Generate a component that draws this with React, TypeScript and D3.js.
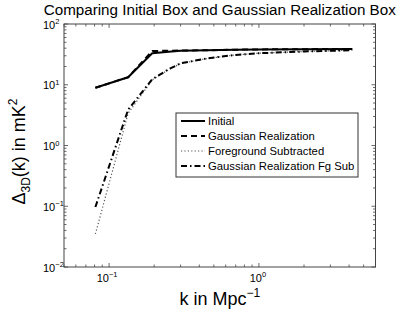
import React from "react";
import * as d3 from "d3";

const kValues = [0.081, 0.134, 0.194, 0.25, 0.3, 0.45, 0.7, 1.0, 2.0, 4.2];
const initialValues = [8.9, 13.3, 33, 35, 36.3, 37, 37.8, 38.2, 38.5, 38.8];
const gaussianValues = [8.9, 13.3, 36, 36.3, 36.5, 37, 37.8, 38.2, 38.5, 38.8];
const fgSubValues = [0.035, 3.4, 12, 17.8, 22.3, 27, 31, 33, 35.3, 37];
const gaussFgSubValues = [0.097, 3.9, 12.3, 18, 22.5, 27.2, 31, 33, 35.3, 37];

const seriesNames = [
  "Initial",
  "Gaussian Realization",
  "Foreground Subtracted",
  "Gaussian Realization Fg Sub",
];
const xTickExps = [-1, 0];
const yTickExps = [-2, -1, 0, 1, 2];
const titleText = "Comparing Initial Box and Gaussian Realization Box";

const W = 415;
const H = 312;
const plot = { left: 64, right: 375.5, top: 24, bottom: 267 };

export default function App() {
  const x = d3.scaleLog().domain([0.05, 6]).range([plot.left, plot.right]);
  const y = d3.scaleLog().domain([0.01, 100]).range([plot.bottom, plot.top]);

  const line = d3
    .line<[number, number]>()
    .x((d) => x(d[0]))
    .y((d) => y(d[1]));

  const allSeries = [initialValues, gaussianValues, fgSubValues, gaussFgSubValues];
  const styles = [
    { dash: "", width: 2, color: "#000" },
    { dash: "6,4", width: 2, color: "#000" },
    { dash: "1.2,2.2", width: 1.2, color: "#555" },
    { dash: "6,3,1.5,3", width: 2, color: "#000" },
  ];
  const drawOrder = [2, 3, 1, 0];

  const xMinor: number[] = [];
  for (let e = -2; e <= 0; e++) {
    for (let m = 1; m <= 9; m++) {
      const v = m * Math.pow(10, e);
      if (v >= 0.05 && v <= 6) xMinor.push(v);
    }
  }
  const yMinor: number[] = [];
  for (let e = -2; e <= 1; e++) {
    for (let m = 2; m <= 9; m++) yMinor.push(m * Math.pow(10, e));
  }
  const frame = "#444";
  const tickMajor = 4;
  const tickMinor = 2.5;

  const legend = { x: 176, y: 113, w: 182, h: 64 };

  return (
    <svg
      width={W}
      height={H}
      style={{ position: "absolute", left: 0, top: 0 }}
      fontFamily="'Liberation Sans', Arial, sans-serif"
    >
      <rect x={0} y={0} width={W} height={H} fill="#fff" />
      <text x={(plot.left + plot.right) / 2} y={14.5} fontSize={15.2} textAnchor="middle" fill="#000">
        {titleText}
      </text>

      <g stroke={frame} strokeWidth={0.8}>
        {xMinor.map((v, i) => (
          <g key={"xm" + i}>
            <line x1={x(v)} x2={x(v)} y1={plot.bottom} y2={plot.bottom - (Number.isInteger(Math.log10(v)) ? tickMajor : tickMinor)} />
            <line x1={x(v)} x2={x(v)} y1={plot.top} y2={plot.top + (Number.isInteger(Math.log10(v)) ? tickMajor : tickMinor)} />
          </g>
        ))}
        {yMinor.map((v, i) => (
          <g key={"ym" + i}>
            <line y1={y(v)} y2={y(v)} x1={plot.left} x2={plot.left + tickMinor} />
            <line y1={y(v)} y2={y(v)} x1={plot.right} x2={plot.right - tickMinor} />
          </g>
        ))}
        {yTickExps.map((e) => (
          <g key={"yM" + e}>
            <line y1={y(Math.pow(10, e))} y2={y(Math.pow(10, e))} x1={plot.left} x2={plot.left + tickMajor} />
            <line y1={y(Math.pow(10, e))} y2={y(Math.pow(10, e))} x1={plot.right} x2={plot.right - tickMajor} />
          </g>
        ))}
      </g>

      {yTickExps.map((e) => (
        <text key={"yl" + e} x={43} y={y(Math.pow(10, e)) + 4.5} fontSize={11} fill="#000">
          10
          <tspan fontSize={7.5} dy={-4.5}>
            {e < 0 ? "\u2212" + Math.abs(e) : e}
          </tspan>
        </text>
      ))}
      {xTickExps.map((e) => (
        <text key={"xl" + e} x={x(Math.pow(10, e)) - (e < 0 ? 2 : 1)} y={282} fontSize={11} textAnchor="middle" fill="#000">
          10
          <tspan fontSize={7.5} dy={-5}>
            {e < 0 ? "\u2212" + Math.abs(e) : e}
          </tspan>
        </text>
      ))}

      {drawOrder.map((si) => (
        <path
          key={"s" + si}
          d={line(kValues.map((k, i) => [k, allSeries[si][i]] as [number, number])) || ""}
          fill="none"
          stroke={styles[si].color}
          strokeWidth={styles[si].width}
          strokeDasharray={styles[si].dash}
          strokeLinejoin="round"
        />
      ))}

      <rect
        x={plot.left}
        y={plot.top}
        width={plot.right - plot.left}
        height={plot.bottom - plot.top}
        fill="none"
        stroke={frame}
        strokeWidth={1}
      />

      <rect x={legend.x} y={legend.y} width={legend.w} height={legend.h} fill="#fff" stroke="#333" strokeWidth={1} />
      {seriesNames.map((name, i) => {
        const ly = legend.y + 8 + i * 15;
        return (
          <g key={"lg" + i}>
            <line
              x1={legend.x + 5}
              x2={legend.x + 29}
              y1={ly}
              y2={ly}
              stroke={styles[i].color}
              strokeWidth={styles[i].width}
              strokeDasharray={styles[i].dash}
            />
            <text x={legend.x + 32} y={ly + 4} fontSize={11.3} fill="#000">
              {name}
            </text>
          </g>
        );
      })}

      <text x={(plot.left + plot.right) / 2} y={305} fontSize={18} textAnchor="middle" fill="#000">
        k in Mpc
        <tspan fontSize={12} dy={-8}>
          {"\u22121"}
        </tspan>
      </text>
      <text
        transform={`translate(25, ${(plot.top + plot.bottom) / 2 + 6}) rotate(-90)`}
        fontSize={18}
        textAnchor="middle"
        fill="#000"
      >
        {"\u0394"}
        <tspan fontSize={12} dy={5}>
          3D
        </tspan>
        <tspan dy={-5}>(k) in mK</tspan>
        <tspan fontSize={12} dy={-8}>
          2
        </tspan>
      </text>
    </svg>
  );
}
